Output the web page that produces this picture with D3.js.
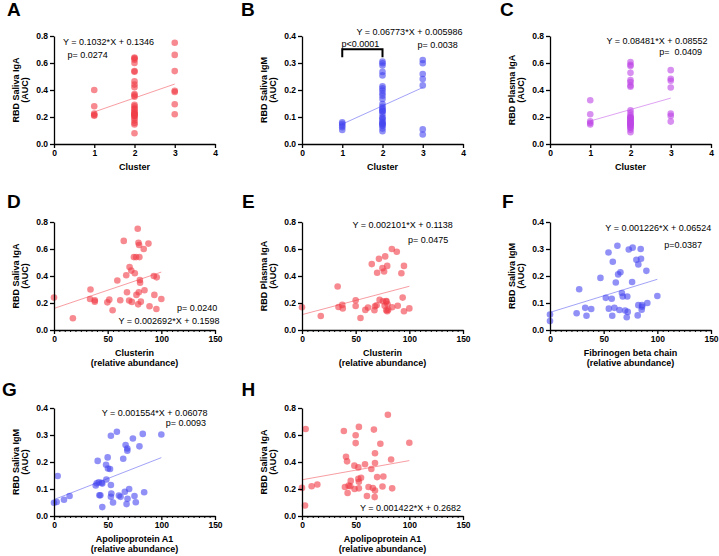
<!DOCTYPE html>
<html>
<head>
<meta charset="utf-8">
<script src="https://cdn.jsdelivr.net/npm/d3@7"></script>
<style>
body { margin: 0; background: #fff; }
svg text { font-family: 'Liberation Sans', Arial, sans-serif; fill: #000; }
</style>
</head>
<body>
<svg id="chart" width="719" height="556"></svg>
<script>

// A-C: values per cluster
var clusters = [1, 2, 3];
var aSaliva1 = [0.40, 0.28, 0.225, 0.215, 0.21];
var aSaliva2 = [0.64, 0.635, 0.625, 0.60, 0.54, 0.535, 0.465, 0.44, 0.42, 0.37, 0.35, 0.29, 0.28, 0.26, 0.26, 0.24, 0.23, 0.23, 0.22, 0.21, 0.205, 0.19, 0.175, 0.155, 0.145, 0.08, 0.36, 0.215];
var aSaliva3 = [0.75, 0.66, 0.54, 0.395, 0.385, 0.295, 0.22];

var bSaliva1 = [0.08, 0.075, 0.068, 0.062, 0.052];
var bSaliva2 = [0.305, 0.299, 0.291, 0.267, 0.254, 0.214, 0.206, 0.198, 0.188, 0.179, 0.167, 0.148, 0.138, 0.132, 0.126, 0.12, 0.111, 0.099, 0.095, 0.089, 0.081, 0.074, 0.067, 0.057, 0.047, 0.122, 0.078, 0.07];
var bSaliva3 = [0.311, 0.299, 0.259, 0.241, 0.217, 0.054, 0.035];

var cPlasma1 = [0.324, 0.22, 0.168, 0.156, 0.144];
var cPlasma2 = [0.607, 0.587, 0.577, 0.527, 0.473, 0.458, 0.433, 0.424, 0.25, 0.23, 0.21, 0.196, 0.186, 0.171, 0.163, 0.156, 0.141, 0.124, 0.106, 0.087, 0.178, 0.15, 0.135, 0.19, 0.165, 0.145, 0.2, 0.12];
var cPlasma3 = [0.547, 0.483, 0.468, 0.419, 0.225, 0.208, 0.166];

// D-H: abundance vs AUC
var dX = [0, 17.6, 34, 33.6, 38, 38, 49.7, 51.5, 54.6, 59, 61.7, 65, 67.3, 68, 70.4, 70, 72, 72.5, 74.4, 75.3, 76.5, 76.8, 78, 78.4, 78.7, 79, 79.3, 79.6, 80, 80.2, 80.9, 83.6, 84.3, 88, 89, 93, 93.5, 95.4, 95.7, 100];
var dY = [0.24, 0.087, 0.30, 0.23, 0.22, 0.21, 0.205, 0.225, 0.146, 0.367, 0.22, 0.66, 0.406, 0.28, 0.466, 0.218, 0.44, 0.208, 0.54, 0.42, 0.54, 0.26, 0.75, 0.19, 0.646, 0.28, 0.63, 0.54, 0.37, 0.35, 0.21, 0.60, 0.295, 0.64, 0.176, 0.40, 0.26, 0.156, 0.39, 0.23];

var eX = [0, 17.5, 33.2, 34, 37.5, 38, 50, 50, 54.5, 59, 61.5, 65, 67.5, 68, 70, 69.5, 71.7, 72.3, 75, 75.4, 76.5, 77, 77.5, 78.5, 78.5, 78.6, 79.4, 79.7, 79.4, 80.3, 84, 83.7, 88.3, 89.2, 92.6, 93.8, 95, 95, 100];
var eY = [0.168, 0.104, 0.322, 0.17, 0.186, 0.16, 0.22, 0.178, 0.089, 0.149, 0.166, 0.488, 0.146, 0.176, 0.424, 0.183, 0.527, 0.223, 0.458, 0.213, 0.433, 0.18, 0.545, 0.21, 0.146, 0.215, 0.475, 0.19, 0.139, 0.15, 0.168, 0.60, 0.58, 0.18, 0.42, 0.24, 0.475, 0.139, 0.16];

var fX = [0, 0, 24.8, 27.2, 32.8, 34, 38.4, 47, 52, 54.5, 54.8, 57.5, 58, 58.5, 60, 61.3, 62.8, 63.5, 64.7, 65.6, 67, 67.8, 70, 71.5, 72, 72.4, 73.4, 76.5, 77, 80.5, 81.7, 82.3, 82.3, 84.5, 84.8, 85.4, 85.8, 85.8, 89.8, 90.7, 100];
var fY = [0.057, 0.033, 0.062, 0.151, 0.082, 0.053, 0.078, 0.193, 0.119, 0.287, 0.079, 0.116, 0.053, 0.253, 0.082, 0.176, 0.312, 0.206, 0.074, 0.214, 0.137, 0.124, 0.072, 0.047, 0.124, 0.067, 0.298, 0.178, 0.305, 0.26, 0.054, 0.243, 0.092, 0.30, 0.264, 0.075, 0.092, 0.086, 0.219, 0.10, 0.126];

var gX = [0, 2.5, 3.4, 9.3, 14.5, 38.9, 39.8, 40.7, 41.7, 42.3, 43.2, 44.4, 45, 45, 48.5, 48.8, 50, 50.3, 52.2, 53, 53, 53.4, 53, 55, 58.6, 60.5, 62, 64.5, 66, 66.7, 67.6, 68.3, 68.3, 68.5, 70, 73.5, 75, 76.2, 79.6, 82.7, 84, 100];
var gY = [0.049, 0.052, 0.148, 0.06, 0.074, 0.113, 0.121, 0.204, 0.125, 0.077, 0.077, 0.123, 0.12, 0.033, 0.19, 0.135, 0.217, 0.176, 0.174, 0.297, 0.115, 0.083, 0.071, 0.05, 0.312, 0.076, 0.071, 0.212, 0.09, 0.263, 0.044, 0.25, 0.242, 0.064, 0.10, 0.287, 0.074, 0.051, 0.258, 0.304, 0.088, 0.302];

var hX = [0, 2.8, 3.4, 9, 14.3, 39, 40, 41, 42, 42.5, 43.5, 45, 45.4, 48.8, 49, 50, 50, 52.5, 52.5, 53, 53, 53, 55, 58.7, 60.5, 62, 64.6, 66, 67, 67.7, 68, 68, 68, 70, 73, 75.8, 75, 80, 83, 84, 100];
var hY = [0.208, 0.078, 0.645, 0.22, 0.233, 0.63, 0.215, 0.438, 0.405, 0.17, 0.225, 0.22, 0.26, 0.373, 0.2, 0.598, 0.54, 0.36, 0.275, 0.253, 0.205, 0.66, 0.283, 0.383, 0.148, 0.215, 0.348, 0.207, 0.64, 0.14, 0.465, 0.393, 0.188, 0.288, 0.535, 0.293, 0.218, 0.75, 0.418, 0.205, 0.543];

// fits printed on the figure [slope, intercept]
var fitA = [0.1032, 0.1346], fitB = [0.06773, 0.005986], fitC = [0.08481, 0.08552];
var fitD = [0.002692, 0.1598], fitE = [0.002101, 0.1138], fitF = [0.001226, 0.06524];
var fitG = [0.001554, 0.06078], fitH = [0.001422, 0.2682];

var clusterTicks = [0, 1, 2, 3, 4];
var abundTicks = [0, 50, 100, 150];
var aucTicks8 = [0, 0.2, 0.4, 0.6, 0.8];
var aucTicks4 = [0, 0.1, 0.2, 0.3, 0.4];

var RED = 'rgb(240,60,70)', BLUE = 'rgb(70,70,240)', PURPLE = 'rgb(190,70,230)';
var cols = [54, 302, 550], rows = [144, 330, 516];
var W = 161, H = 108;

var svg = d3.select('#chart');

function byCluster(a, b, c) {
	var out = [];
	[a, b, c].forEach(function(list, i) {
		list.forEach(function(v) { out.push([clusters[i], v]); });
	});
	return out;
}

function zip(xs, ys) {
	return xs.map(function(v, i) { return [v, ys[i]]; });
}

function panel(o) {
	var x0 = cols[o.col], y0 = rows[o.row];
	var x = d3.scaleLinear().domain(d3.extent(o.xt)).range([x0, x0 + W]);
	var y = d3.scaleLinear().domain(d3.extent(o.yt)).range([y0, y0 - H]);
	var g = svg.append('g');

	g.selectAll('circle').data(o.pts).enter().append('circle')
		.attr('cx', function(d) { return x(d[0]); })
		.attr('cy', function(d) { return y(d[1]); })
		.attr('r', 3.3)
		.attr('fill', o.color)
		.attr('fill-opacity', 0.6);

	// regression line over the data range
	var ext = d3.extent(o.pts, function(d) { return d[0]; });
	g.append('line')
		.attr('x1', x(ext[0])).attr('y1', y(o.fit[0] * ext[0] + o.fit[1]))
		.attr('x2', x(ext[1])).attr('y2', y(o.fit[0] * ext[1] + o.fit[1]))
		.attr('stroke', o.color).attr('stroke-opacity', 0.5).attr('stroke-width', 1);

	if (o.minor) {
		var minor = d3.range(0, 151, 5).filter(function(v) { return o.xt.indexOf(v) < 0; });
		g.append('g').attr('transform', 'translate(0,' + y0 + ')')
			.call(d3.axisBottom(x).tickValues(minor).tickSize(2).tickSizeOuter(0).tickFormat(''))
			.call(function(s) { s.select('.domain').remove(); s.selectAll('line').attr('stroke-width', 1); });
	}

	var xa = g.append('g').attr('transform', 'translate(0,' + y0 + ')')
		.call(d3.axisBottom(x).tickValues(o.xt).tickFormat(d3.format('d')).tickSize(4).tickSizeOuter(0).tickPadding(2));
	var ya = g.append('g').attr('transform', 'translate(' + x0 + ',0)')
		.call(d3.axisLeft(y).tickValues(o.yt).tickFormat(d3.format('.1f')).tickSize(4).tickSizeOuter(0).tickPadding(2));
	[xa, ya].forEach(function(a) {
		a.attr('font-family', null).attr('font-size', null);
		a.selectAll('path, line').attr('stroke', '#000').attr('stroke-width', 1.3);
		a.selectAll('text').style('font-size', '8.5px').style('font-weight', 'bold');
	});

	// axis titles
	var yc = y0 - H / 2;
	g.append('text').attr('transform', 'translate(' + (x0 - 35) + ',' + yc + ') rotate(-90)')
		.attr('text-anchor', 'middle').style('font-size', '9px').style('font-weight', 'bold').text(o.ytitle);
	g.append('text').attr('transform', 'translate(' + (x0 - 26) + ',' + yc + ') rotate(-90)')
		.attr('text-anchor', 'middle').style('font-size', '9px').style('font-weight', 'bold').text('(AUC)');
	o.xtitle.forEach(function(t, i) {
		g.append('text').attr('x', x0 + W / 2).attr('y', y0 + 26 + i * 10)
			.attr('text-anchor', 'middle').style('font-size', '9px').style('font-weight', 'bold').text(t);
	});

	// panel letter
	g.append('text').attr('x', o.letter[1]).attr('y', o.letter[2])
		.style('font-size', '19px').style('font-weight', 'bold').text(o.letter[0]);

	o.notes.forEach(function(n) {
		g.append('text').attr('x', n[1]).attr('y', n[2]).attr('text-anchor', n[3] || 'start')
			.style('font-size', '9px').style('white-space', 'pre').text(n[0]);
	});

	return { g: g, x: x, y: y };
}

panel({ col: 0, row: 0, pts: byCluster(aSaliva1, aSaliva2, aSaliva3), fit: fitA, color: RED,
	xt: clusterTicks, yt: aucTicks8, ytitle: 'RBD Saliva IgA', xtitle: ['Cluster'],
	letter: ['A', 7, 16], notes: [['Y = 0.1032*X + 0.1346', 63, 45], ['p= 0.0274', 67.5, 57.5]] });

var pb = panel({ col: 1, row: 0, pts: byCluster(bSaliva1, bSaliva2, bSaliva3), fit: fitB, color: BLUE,
	xt: clusterTicks, yt: aucTicks4, ytitle: 'RBD Saliva IgM', xtitle: ['Cluster'],
	letter: ['B', 241, 16], notes: [['Y = 0.06773*X + 0.005986', 356.5, 34.5], ['p= 0.0038', 417.5, 48]] });

// significance bracket between cluster 1 and 2
var bx1 = pb.x(1), bx2 = pb.x(2), by = 49.3;
pb.g.append('path')
	.attr('d', 'M' + bx1 + ',' + (by + 8) + 'V' + by + 'H' + bx2 + 'V' + (by + 8))
	.attr('fill', 'none').attr('stroke', '#000').attr('stroke-width', 2);
pb.g.append('text').attr('x', (bx1 + bx2) / 2 - 2).attr('y', by - 2.5).attr('text-anchor', 'middle')
	.style('font-size', '9px').text('p<0.0001');

panel({ col: 2, row: 0, pts: byCluster(cPlasma1, cPlasma2, cPlasma3), fit: fitC, color: PURPLE,
	xt: clusterTicks, yt: aucTicks8, ytitle: 'RBD Plasma IgA', xtitle: ['Cluster'],
	letter: ['C', 500, 16], notes: [['Y = 0.08481*X + 0.08552', 606.5, 44], ['p=  0.0409', 702, 55, 'end']] });

panel({ col: 0, row: 1, pts: zip(dX, dY), fit: fitD, color: RED, minor: true,
	xt: abundTicks, yt: aucTicks8, ytitle: 'RBD Saliva IgA', xtitle: ['Clusterin', '(relative abundance)'],
	letter: ['D', 7, 208], notes: [['p= 0.0240', 177, 310.5], ['Y = 0.002692*X + 0.1598', 118.5, 323.7]] });

panel({ col: 1, row: 1, pts: zip(eX, eY), fit: fitE, color: RED, minor: true,
	xt: abundTicks, yt: aucTicks8, ytitle: 'RBD Plasma IgA', xtitle: ['Clusterin', '(relative abundance)'],
	letter: ['E', 242, 208], notes: [['Y = 0.002101*X + 0.1138', 352.5, 227.5], ['p= 0.0475', 408, 242.7]] });

panel({ col: 2, row: 1, pts: zip(fX, fY), fit: fitF, color: BLUE, minor: true,
	xt: abundTicks, yt: aucTicks4, ytitle: 'RBD Saliva IgM', xtitle: ['Fibrinogen beta chain', '(relative abundance)'],
	letter: ['F', 502, 208], notes: [['Y = 0.001226*X + 0.06524', 605.3, 231], ['p=0.0387', 664.3, 247.5]] });

panel({ col: 0, row: 2, pts: zip(gX, gY), fit: fitG, color: BLUE, minor: true,
	xt: abundTicks, yt: aucTicks4, ytitle: 'RBD Saliva IgM', xtitle: ['Apolipoprotein A1', '(relative abundance)'],
	letter: ['G', 2, 396], notes: [['Y = 0.001554*X + 0.06078', 101.7, 415.7], ['p= 0.0093', 165.7, 426]] });

panel({ col: 1, row: 2, pts: zip(hX, hY), fit: fitH, color: RED, minor: true,
	xt: abundTicks, yt: aucTicks8, ytitle: 'RBD Saliva IgA', xtitle: ['Apolipoprotein A1', '(relative abundance)'],
	letter: ['H', 241.5, 396], notes: [['Y = 0.001422*X + 0.2682', 360, 510.7]] });

</script>
</body>
</html>
